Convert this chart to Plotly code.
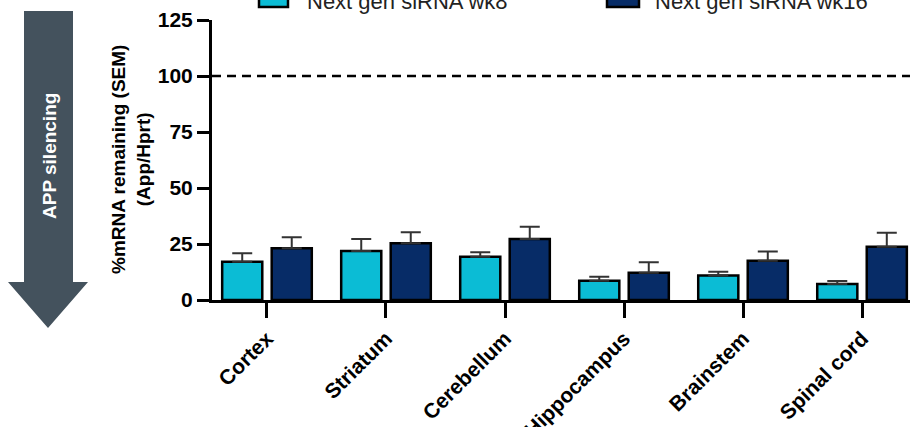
import plotly.graph_objects as go

# ---- data ----
categories = ["Cortex", "Striatum", "Cerebellum", "Hippocampus", "Brainstem", "Spinal cord"]
series_names = ["Next gen siRNA wk8", "Next gen siRNA wk16"]
wk8_values = [17.1, 21.9, 19.3, 8.6, 10.9, 7.1]
wk8_sem = [3.8, 5.3, 2.0, 1.8, 1.7, 1.4]
wk16_values = [23.1, 25.3, 27.2, 12.2, 17.5, 23.8]
wk16_sem = [4.9, 4.9, 5.5, 4.6, 4.1, 6.2]
y_ticks = [0, 25, 50, 75, 100, 125]
reference_level = 100

# ---- styles ----
LIGHT = "#0BBCD5"
DARK = "#072C67"
ARROW = "#44525D"
FONT = "Liberation Sans, Arial, sans-serif"

W, H = 910, 427
ML, MR, MT, MB = 212, 0, 20, 127
PW = W - ML - MR
PH = H - MT - MB


def px(x):
    return (x - ML) / PW


def py(y):
    return (H - MB - y) / PH


fig = go.Figure()
for name, vals, err, col in [
    (series_names[0], wk8_values, wk8_sem, LIGHT),
    (series_names[1], wk16_values, wk16_sem, DARK),
]:
    fig.add_trace(go.Bar(
        x=categories, y=vals, name=name,
        marker=dict(color=col, line=dict(color="black", width=2.5)),
        error_y=dict(type="data", symmetric=False, array=err,
                     arrayminus=[0] * len(err), color="#333333",
                     thickness=2, width=10),
        showlegend=False,
    ))

shapes = [
    # reference line
    dict(type="line", xref="paper", x0=0, x1=1, yref="y",
         y0=reference_level, y1=reference_level,
         line=dict(color="black", width=2.5, dash="9px,6px"), layer="above"),
    # arrow
    dict(type="path", xref="paper", yref="paper",
         path=("M {a},{t} L {b},{t} L {b},{h} L {c},{h} L {m},{tip} "
               "L {d},{h} L {a},{h} Z").format(
             a=px(24), b=px(73), c=px(88), d=px(8), m=px(48),
             t=py(11), h=py(282), tip=py(328)),
         fillcolor=ARROW, line=dict(width=0)),
    # legend squares
    dict(type="rect", xref="paper", yref="paper",
         x0=px(259), x1=px(288), y0=py(-21), y1=py(7),
         fillcolor=LIGHT, line=dict(color="black", width=2.5)),
    dict(type="rect", xref="paper", yref="paper",
         x0=px(607), x1=px(639), y0=py(-21), y1=py(7),
         fillcolor=DARK, line=dict(color="black", width=2.5)),
]

annotations = [
    dict(text=series_names[0], xref="paper", yref="paper",
         x=px(305), y=py(1), xanchor="left", yanchor="middle",
         showarrow=False, font=dict(family=FONT, size=22, color="#222")),
    dict(text=series_names[1], xref="paper", yref="paper",
         x=px(653), y=py(1), xanchor="left", yanchor="middle",
         showarrow=False, font=dict(family=FONT, size=22, color="#222")),
    dict(text="APP silencing", xref="paper", yref="paper",
         x=px(49), y=py(156), xanchor="center", yanchor="middle",
         textangle=-90, showarrow=False,
         font=dict(family=FONT, size=19, color="white", weight="bold")),
    dict(text="%mRNA remaining (SEM)<br>(App/Hprt)", xref="paper", yref="paper",
         x=px(131), y=py(160), xanchor="center", yanchor="middle",
         textangle=-90, showarrow=False,
         font=dict(family=FONT, size=19, color="black", weight="bold")),
]

fig.update_layout(
    width=W, height=H,
    margin=dict(l=ML, r=MR, t=MT, b=MB, pad=0, autoexpand=False),
    paper_bgcolor="white", plot_bgcolor="white",
    barmode="group", bargap=0.168, bargroupgap=0.19,
    shapes=shapes, annotations=annotations,
    xaxis=dict(range=[-0.462, 5.403], showline=True, linewidth=3,
               linecolor="black", ticks="outside", ticklen=15, tickwidth=3,
               tickcolor="black", tickangle=-45, showgrid=False,
               automargin=False,
               tickfont=dict(family=FONT, size=21, color="black", weight="bold")),
    yaxis=dict(range=[0, 125], tickvals=y_ticks, showline=True, linewidth=3,
               linecolor="black", ticks="outside", ticklen=12, tickwidth=3,
               tickcolor="black", showgrid=False, zeroline=False,
               automargin=False,
               tickfont=dict(family=FONT, size=21, color="black", weight="bold")),
)

fig.write_html("out.html")
